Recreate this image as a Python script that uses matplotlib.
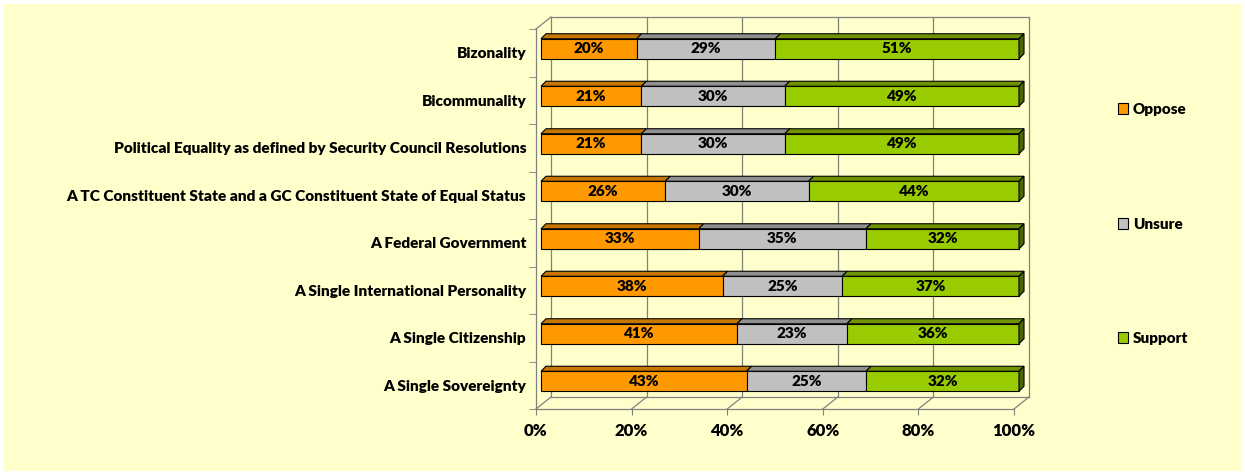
import numpy as np
import matplotlib.pyplot as plt
from matplotlib.patches import Polygon, Rectangle, Patch

# ------------------------------------------------------
# DATA
# ------------------------------------------------------
categories = [
    "Bizonality",
    "Bicommunality",
    "Political Equality as defined by Security Council Resolutions",
    "A TC Constituent State and a GC Constituent State of Equal Status",
    "A Federal Government",
    "A Single International Personality",
    "A Single Citizenship",
    "A Single Sovereignty",
]
oppose = [20, 21, 21, 26, 33, 38, 41, 43]
unsure = [29, 30, 30, 30, 35, 25, 23, 25]
support = [51, 49, 49, 44, 32, 37, 36, 32]
series_names = ["Oppose", "Unsure", "Support"]
xticks = [0, 20, 40, 60, 80, 100]

# ------------------------------------------------------
# STYLE
# ------------------------------------------------------
plt.rcParams['font.family'] = ['Lato', 'DejaVu Sans']
W = "heavy"

front_col = ["#FF9900", "#C0C0C0", "#99CC00"]
top_col = ["#C77700", "#8F8F8F", "#6F9400"]
side_col = ["#A35F00", "#707070", "#4D6600"]
grid_col = "#808080"
bg = "#FFFFCC"

fig = plt.figure(figsize=(12.45, 4.75), dpi=100)
fig.patch.set_facecolor("white")
fig.patches.append(Rectangle((4 / 1245, 4 / 475), 1237 / 1245, 467 / 475,
                             transform=fig.transFigure, facecolor=bg,
                             edgecolor="none", zorder=-10))

ax = fig.add_axes([536 / 1245, 66 / 475, 478 / 1245, 380 / 475])
ax.set_facecolor("none")
ax.set_xlim(0, 100)
ax.set_ylim(7.5, -0.5)   # first category on top

# pixel -> data unit scale for the fake 3D depth ("up" = smaller y)
px_x = 100 / 478
px_y = 8 / 380
wall_dx, wall_dy = 15 * px_x, 12 * px_y
bar_dx, bar_dy = 5 * px_x, 4 * px_y      # bar front plane offset
dep_dx, dep_dy = 5 * px_x, 5 * px_y      # bar depth
bar_h = 20 * px_y

y_top, y_bot = -0.5, 7.5
lw_grid = 0.9

# ---- back wall + floor ----
for v in xticks:
    ax.plot([v + wall_dx, v + wall_dx], [y_top - wall_dy, y_bot - wall_dy],
            color=grid_col, lw=lw_grid, clip_on=False, zorder=1)
    ax.plot([v, v + wall_dx], [y_bot, y_bot - wall_dy],
            color=grid_col, lw=lw_grid, clip_on=False, zorder=1)
ax.plot([wall_dx, 100 + wall_dx], [y_top - wall_dy] * 2,
        color=grid_col, lw=lw_grid, clip_on=False, zorder=1)
ax.plot([wall_dx, 100 + wall_dx], [y_bot - wall_dy] * 2,
        color=grid_col, lw=lw_grid, clip_on=False, zorder=1)
ax.plot([0, wall_dx], [y_top, y_top - wall_dy],
        color=grid_col, lw=lw_grid, clip_on=False, zorder=1)

# ---- bars ----
ypos = np.arange(len(categories))
data = [oppose, unsure, support]
for i in ypos:
    left = 0
    yc = i - bar_dy
    yt = yc - bar_h / 2
    yb = yc + bar_h / 2
    for k in range(3):
        w = data[k][i]
        x0 = left + bar_dx
        x1 = left + w + bar_dx
        ax.add_patch(Rectangle((x0, yt), w, bar_h, facecolor=front_col[k],
                               edgecolor="black", lw=0.8, zorder=3, clip_on=False))
        ax.add_patch(Polygon([(x0, yt), (x1, yt), (x1 + dep_dx, yt - dep_dy),
                              (x0 + dep_dx, yt - dep_dy)], closed=True,
                             facecolor=top_col[k], edgecolor="black", lw=0.8,
                             zorder=3, clip_on=False))
        if k == 2:
            ax.add_patch(Polygon([(x1, yt), (x1, yb), (x1 + dep_dx, yb - dep_dy),
                                  (x1 + dep_dx, yt - dep_dy)], closed=True,
                                 facecolor=side_col[k], edgecolor="black", lw=0.8,
                                 zorder=3, clip_on=False))
        ax.text(x0 + w / 2, yc, f"{w}%", ha="center", va="center",
                fontsize=11, fontweight=W, zorder=4)
        left += w

# ---- axes styling ----
for s in ["top", "right"]:
    ax.spines[s].set_visible(False)
for s in ["left", "bottom"]:
    ax.spines[s].set_color(grid_col)
    ax.spines[s].set_linewidth(lw_grid)

ax.set_xticks(xticks)
ax.set_xticklabels([f"{v}%" for v in xticks], fontsize=12, fontweight=W)
ax.tick_params(axis="x", length=4, color=grid_col, pad=6)
ax.set_yticks(ypos)
ax.set_yticklabels(categories, fontsize=11.1, fontweight=W)
ax.set_yticks(np.arange(-0.5, 8, 1), minor=True)
ax.tick_params(axis="y", which="major", length=0, pad=7)
ax.tick_params(axis="y", which="minor", length=5, color=grid_col)

# ---- legend ----
handles = [Patch(facecolor=front_col[k], edgecolor="black", lw=0.8)
           for k in range(3)]
fig.legend(handles, series_names, loc="center left",
           bbox_to_anchor=(1104 / 1245, 1 - 224 / 475), frameon=False,
           labelspacing=6.65, handlelength=0.7, handleheight=0.7,
           handletextpad=0.3, prop={"weight": W, "size": 11})

fig.savefig("out.png", dpi=100, facecolor=fig.get_facecolor())
